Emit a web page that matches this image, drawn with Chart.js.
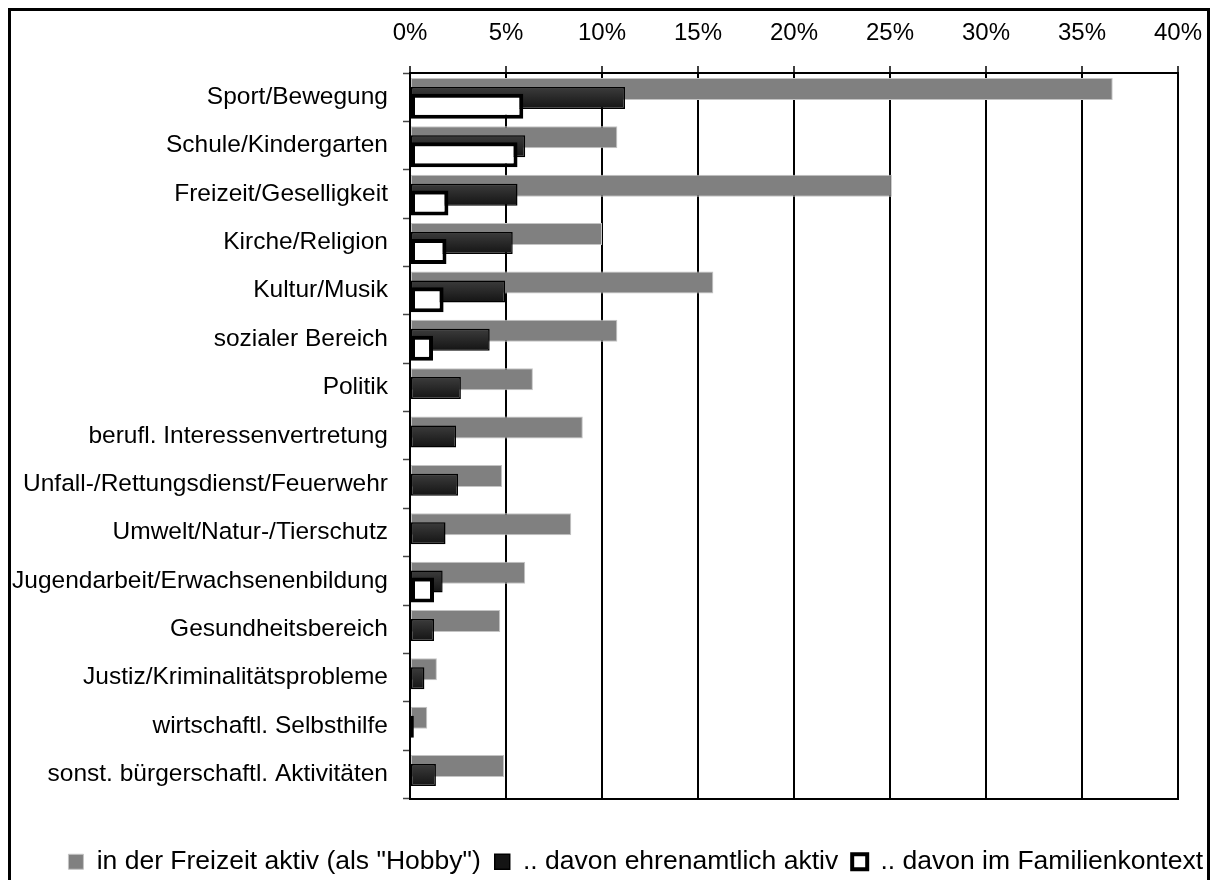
<!DOCTYPE html>
<html>
<head>
<meta charset="utf-8">
<script src="https://cdn.jsdelivr.net/npm/chart.js@4.4.1/dist/chart.umd.min.js"></script>
<style>
html, body { margin: 0; padding: 0; overflow: hidden; background: #fff; }
#frame { position: absolute; left: 8px; top: 8px; width: 1202px; height: 880px; border: 3px solid #000; box-sizing: border-box; }
#box { position: absolute; left: 11px; top: 11px; width: 1206px; height: 874px; }
</style>
</head>
<body>
<div id="frame"></div>
<div id="box"><canvas id="myChart"></canvas></div>
<script>
const categories = [
    'Sport/Bewegung', 'Schule/Kindergarten', 'Freizeit/Geselligkeit', 'Kirche/Religion',
    'Kultur/Musik', 'sozialer Bereich', 'Politik', 'berufl. Interessenvertretung',
    'Unfall-/Rettungsdienst/Feuerwehr', 'Umwelt/Natur-/Tierschutz', 'Jugendarbeit/Erwachsenenbildung',
    'Gesundheitsbereich', 'Justiz/Kriminalitätsprobleme', 'wirtschaftl. Selbsthilfe',
    'sonst. bürgerschaftl. Aktivitäten'
];
const seriesNames = ['in der Freizeit aktiv (als "Hobby")', '.. davon ehrenamtlich aktiv', '.. davon im Familienkontext'];
const hobby = [36.6, 10.8, 25.1, 10.0, 15.8, 10.8, 6.4, 9.0, 4.8, 8.4, 6.0, 4.7, 1.4, 0.9, 4.9];
const ehrenamt = [11.2, 6.0, 5.6, 5.35, 4.95, 4.15, 2.65, 2.4, 2.5, 1.85, 1.7, 1.25, 0.75, 0.2, 1.35];
const familie = [5.9, 5.6, 2.0, 1.9, 1.75, 1.2, null, null, null, null, 1.25, null, null, null, null];
const xTicks = [0, 5, 10, 15, 20, 25, 30, 35, 40];

// bars of one category sit a bit above / below each other (index units)
const shift = { hobby: -0.17, ehrenamt: 0.015, familie: 0.19 };

Chart.defaults.font.family = '"Liberation Sans", Arial, sans-serif';
Chart.defaults.color = '#000';

function toPoints(values, off) {
    return values
        .map((v, i) => ({ x: v, y: i + off }))
        .filter(p => p.x !== null);
}

function darkFill(c) {
    const yScale = c.chart.scales.yB;
    if (!yScale || c.dataIndex === undefined) return '#262626';
    const mid = yScale.getPixelForValue(c.dataIndex + shift.ehrenamt);
    if (!isFinite(mid)) return '#262626';
    const g = c.chart.ctx.createLinearGradient(0, mid - 11, 0, mid + 11);
    g.addColorStop(0, '#3c3c3c');
    g.addColorStop(1, '#141414');
    return g;
}

const hiddenIndex = {
    type: 'linear', display: false, offset: false, reverse: true,
    min: -0.5, max: categories.length - 0.5
};

// bars are not grouped, each is placed at its own shifted index
const barBase = { grouped: false, categoryPercentage: 1, barPercentage: 20, borderSkipped: false };

new Chart(document.getElementById('myChart'), {
    type: 'bar',
    data: {
        labels: categories,
        datasets: [{
            ...barBase,
            label: seriesNames[0],
            data: toPoints(hobby, shift.hobby),
            yAxisID: 'yG',
            backgroundColor: '#808080',
            borderColor: '#c4c4c4',
            borderWidth: 1,
            maxBarThickness: 22,
            order: 3
        }, {
            ...barBase,
            label: seriesNames[1],
            data: toPoints(ehrenamt, shift.ehrenamt),
            yAxisID: 'yB',
            backgroundColor: darkFill,
            borderColor: '#000',
            borderWidth: 1.5,
            maxBarThickness: 22,
            order: 2
        }, {
            ...barBase,
            label: seriesNames[2],
            data: toPoints(familie, shift.familie),
            yAxisID: 'yW',
            backgroundColor: '#fff',
            borderColor: '#000',
            borderWidth: 4,
            maxBarThickness: 25,
            order: 1
        }]
    },
    options: {
        indexAxis: 'y',
        responsive: true,
        maintainAspectRatio: false,
        animation: false,
        layout: { padding: 0 },
        plugins: {
            tooltip: { enabled: false },
            legend: {
                position: 'bottom',
                align: 'end',
                labels: {
                    boxWidth: 15,
                    boxHeight: 15,
                    padding: 14,
                    font: { size: 26.5 },
                    sort: (a, b) => a.datasetIndex - b.datasetIndex
                }
            }
        },
        scales: {
            x: {
                type: 'linear',
                position: 'top',
                min: 0,
                max: 40,
                afterBuildTicks: s => { s.ticks = xTicks.map(v => ({ value: v })); },
                afterFit: s => { s.height = 62; },
                ticks: {
                    callback: v => v + '%',
                    font: { size: 24, lineHeight: '66px' },
                    padding: 0,
                    autoSkip: false,
                    maxRotation: 0
                },
                grid: { color: '#000', lineWidth: 2, tickLength: 7, tickWidth: 1.5, tickColor: '#000' },
                border: { color: '#000', width: 2 }
            },
            x2: {
                type: 'linear',
                position: 'bottom',
                min: 0,
                max: 40,
                afterFit: s => { s.height = 36; },
                ticks: { display: false },
                grid: { display: false },
                border: { color: '#000', width: 2 }
            },
            y: {
                type: 'category',
                position: 'left',
                offset: true,
                afterFit: s => { s.width = 399; },
                ticks: { font: { size: 24.5 }, padding: 15, autoSkip: false },
                grid: { offset: true, drawOnChartArea: false, tickLength: 7, tickWidth: 1.5, tickColor: '#444' },
                border: { color: '#000', width: 2 }
            },
            yR: {
                type: 'linear',
                position: 'right',
                afterFit: s => { s.width = 39; },
                ticks: { display: false },
                grid: { display: false },
                border: { display: false }
            },
            yG: hiddenIndex,
            yB: hiddenIndex,
            yW: hiddenIndex
        }
    }
});
</script>
</body>
</html>
